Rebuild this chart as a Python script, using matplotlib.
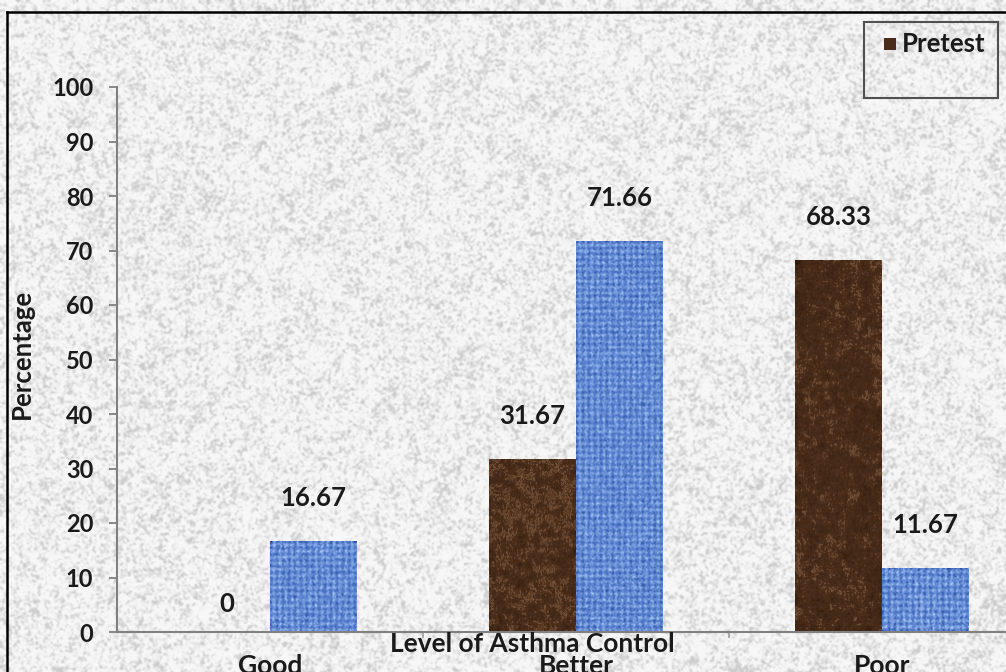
import numpy as np
import matplotlib
matplotlib.use('Agg')
import matplotlib.pyplot as plt
from matplotlib.patches import Rectangle
from matplotlib.lines import Line2D

plt.rcParams['font.family'] = ['Lato', 'DejaVu Sans']

# Level of asthma control, percentage of patients
categories = ['Good', 'Better', 'Poor']
pretest = [0, 31.67, 68.33]
posttest = [16.67, 71.66, 11.67]
pretest_labels = ['0', '31.67', '68.33']
posttest_labels = ['16.67', '71.66', '11.67']
yticks = list(range(0, 101, 10))

rng = np.random.default_rng(7)


def box_blur(a, k):
    # cheap separable box blur, edges padded
    if k < 2:
        return a
    p = k // 2
    b = np.pad(a, ((p, p), (0, 0)), mode='edge')
    c = np.cumsum(b, axis=0)
    c = np.vstack([np.zeros((1, c.shape[1])), c])
    a = (c[k:k + a.shape[0]] - c[:a.shape[0]]) / k
    b = np.pad(a, ((0, 0), (p, p)), mode='edge')
    c = np.cumsum(b, axis=1)
    c = np.hstack([np.zeros((c.shape[0], 1)), c])
    return (c[:, k:k + a.shape[1]] - c[:, :a.shape[1]]) / k


def norm(a):
    return (a - a.min()) / (a.max() - a.min() + 1e-9)


def granite(h, w):
    fine = box_blur(rng.random((h, w)), 3)
    mid = box_blur(rng.random((h, w)), 8)
    coarse = box_blur(rng.random((h, w)), 30)
    v = norm(0.5 * norm(fine) + 0.35 * norm(mid) + 0.15 * norm(coarse))
    s = np.clip((v - 0.42) / 0.35, 0, 1)
    s = s * s * (3 - 2 * s)
    return box_blur(0.965 - 0.17 * s, 2)


def marble(h, w):
    v = 0.35 * norm(box_blur(rng.random((h, w)), 25))
    v += 0.4 * norm(box_blur(rng.random((h, w)), 7))
    v += 0.25 * norm(box_blur(rng.random((h, w)), 2))
    v = norm(v)
    streak = np.exp(-((v - 0.68) / 0.05) ** 2)
    dark = np.array([45, 25, 12]) / 255
    base = np.array([100, 64, 40]) / 255
    light = np.array([155, 118, 88]) / 255
    img = dark + (base - dark) * v[..., None]
    img = img + (light - img) * (0.45 * streak[..., None])
    return np.clip(img, 0, 1)


def weave(h, w):
    yy, xx = np.mgrid[0:h, 0:w]
    pattern = 0.5 + 0.25 * np.cos(2 * np.pi * xx / 6) + 0.25 * np.cos(2 * np.pi * yy / 6)
    v = 0.45 * pattern + 0.55 * rng.random((h, w))
    v = norm(box_blur(v, 2))
    dark = np.array([40, 75, 160]) / 255
    mid = np.array([95, 135, 210]) / 255
    light = np.array([175, 205, 248]) / 255
    t = v[..., None]
    img = np.where(t > 0.5, mid + (dark - mid) * ((t - 0.5) / 0.5),
                   light + (mid - light) * (t / 0.5))
    return np.clip(img, 0, 1)


fig = plt.figure(figsize=(10.06, 6.72), dpi=100)

# textured paper background
bg = fig.add_axes([0, 0, 1, 1], zorder=-5)
bg.imshow(granite(672, 1006), cmap='gray', vmin=0, vmax=1, aspect='auto',
          interpolation='bilinear')
bg.set_axis_off()

ax = fig.add_axes([117 / 1006, 40 / 672, 918 / 1006, 545 / 672])
ax.patch.set_alpha(0)

x = np.arange(len(categories))
w = 0.284
pre_bars = ax.bar(x - w / 2, pretest, w, color='#4a2c1a', zorder=2,
                  label='Pretest')
post_bars = ax.bar(x + w / 2, posttest, w, color='#6a93d6', zorder=2,
                   label='Posttest')

# lay textures inside each bar
for bars, maker in ((pre_bars, marble), (post_bars, weave)):
    for b in bars:
        hgt = b.get_height()
        if hgt <= 0:
            continue
        hpx = max(int(hgt * 5.45), 2)
        tex = maker(hpx, 87)
        im = ax.imshow(tex, extent=[b.get_x(), b.get_x() + b.get_width(), 0, hgt],
                       aspect='auto', zorder=3, interpolation='bilinear')
        im.set_clip_path(b)

ax.set_xlim(-0.5, 2.5)
ax.set_ylim(0, 100)

# value labels above the bars
for bars, labels in ((pre_bars, pretest_labels), (post_bars, posttest_labels)):
    for b, lab in zip(bars, labels):
        off = 20 if b.get_height() == 0 else 31
        ax.annotate(lab, (b.get_x() + b.get_width() / 2, b.get_height()),
                    xytext=(0, off), textcoords='offset points',
                    ha='center', va='center', fontsize=18.5,
                    fontweight='bold', color='#1a1a1a', zorder=5)

for side in ('top', 'right'):
    ax.spines[side].set_visible(False)
for side in ('left', 'bottom'):
    ax.spines[side].set_color('#808080')
    ax.spines[side].set_linewidth(1.5)
    ax.spines[side].set_zorder(4)

ax.set_yticks(yticks)
ax.tick_params(axis='y', length=6, width=1.3, color='#808080', pad=11,
               labelsize=17, labelcolor='#1a1a1a')
for t in ax.get_yticklabels():
    t.set_fontweight('bold')
ax.set_xticks([0.5, 1.5])
ax.set_xticklabels([])
ax.tick_params(axis='x', length=4, width=1.2, color='#a0a0a0')

ax.set_ylabel('Percentage', fontsize=18.5, fontweight='bold', color='#1a1a1a')
ax.yaxis.set_label_coords(-95 / 918, 0.51)
ax.yaxis.label.set_verticalalignment('center')

# category names and axis title sit below the baseline
for xi, cat in zip(x, categories):
    ax.annotate(cat, (xi, 0), xytext=(0, -16), textcoords='offset points',
                ha='center', va='top', fontsize=19, fontweight='bold',
                color='#1a1a1a', annotation_clip=False)
fig.text(532 / 1006, 1 - 644 / 672, 'Level of Asthma Control', ha='center',
         va='center', fontsize=19, fontweight='bold', color='#1a1a1a')

# legend box
fig.add_artist(Rectangle((864 / 1006, 1 - 98 / 672), 134 / 1006, 76 / 672,
                         transform=fig.transFigure, fill=False,
                         edgecolor='#505050', linewidth=1.5))
fig.add_artist(Rectangle((884 / 1006, 1 - 50 / 672), 12 / 1006, 12 / 672,
                         transform=fig.transFigure, facecolor='#4a2c1a',
                         edgecolor='none'))
fig.text(902 / 1006, 1 - 44 / 672, 'Pretest', ha='left', va='center',
         fontsize=18.5, fontweight='bold', color='#1a1a1a')

# outer frame of the figure
fig.add_artist(Line2D([7 / 1006, 1], [1 - 12 / 672, 1 - 12 / 672],
                      transform=fig.transFigure, color='black', linewidth=1.8))
fig.add_artist(Line2D([7 / 1006, 7 / 1006], [0, 1 - 12 / 672],
                      transform=fig.transFigure, color='black', linewidth=1.8))

fig.savefig('out.png', dpi=100)
